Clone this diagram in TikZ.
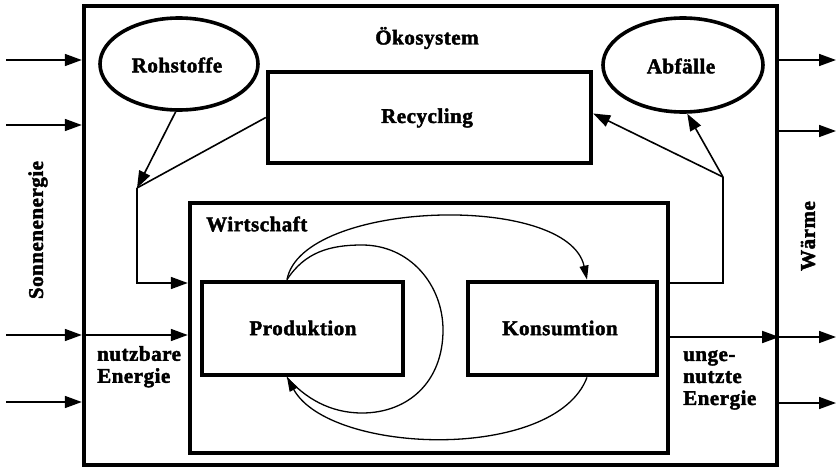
\documentclass[tikz,border=0pt]{standalone}
\usepackage{fontspec}
\setmainfont{Liberation Serif}[LetterSpace=2.5, BoldFeatures={FakeBold=2}]
\usetikzlibrary{arrows.meta,shapes.geometric}

\begin{document}
\begin{tikzpicture}[x=1pt,y=-1pt,
  lbl/.style={font=\fontsize{21}{22}\selectfont\bfseries},
  frame/.style={draw, line width=4.4pt, inner sep=0pt},
  blob/.style={draw, ellipse, line width=3.6pt, inner sep=0pt},
  arr/.style={line width=1.6pt, -{Triangle[length=17pt,width=12pt]}},
  flow/.style={line width=1.6pt},
  cyc/.style={line width=1.3pt},
  carr/.style={line width=1.3pt, -{Triangle[length=14pt,width=9pt]}}
]
\useasboundingbox (0,0) rectangle (836,471);

% boxes
\node[frame, minimum width=693pt, minimum height=459pt] (eco) at (430.5,235.5) {};
\node[frame, minimum width=323pt, minimum height=91pt] (recyc) at (429.5,117.5) {};
\node[frame, minimum width=478pt, minimum height=250pt] (wirt) at (429,328) {};
\node[frame, line width=4.8pt, minimum width=201pt, minimum height=93pt] (prod) at (302.5,328.5) {};
\node[frame, line width=4.8pt, minimum width=189pt, minimum height=93pt] (kons) at (562.5,328.5) {};
\node[blob, minimum width=158pt, minimum height=92pt] (roh) at (179,64) {};
\node[blob, minimum width=160pt, minimum height=94pt] (abf) at (683,65) {};

% texts
\node[lbl] (tEco) at (427,38) {Ökosystem};
\node[lbl] (tRecyc) at (427,118) {Recycling};
\node[lbl] (tRoh) at (177,65) {Rohstoffe};
\node[lbl] (tAbf) at (681,66) {Abfälle};
\node[lbl, anchor=west, inner sep=0pt] (tWirt) at (206,224) {Wirtschaft};
\node[lbl] (tProd) at (303,328) {Produktion};
\node[lbl] (tKons) at (560,328) {Konsumtion};
\node[lbl, anchor=north west, align=left, inner sep=0pt] (tNutz) at (97,346) {nutzbare\\Energie};
\node[lbl, anchor=north west, align=left, inner sep=0pt] (tUnge) at (683,350) {unge-\\nutzte\\Energie};
\node[lbl, rotate=90] (tSonne) at (38,230) {Sonnenenergie};
\node[lbl, rotate=90] (tWaerme) at (808,236) {Wärme};

% incoming solar energy
\coordinate (l1) at (6,60);
\coordinate (l2) at (6,125);
\coordinate (l3) at (6,335);
\coordinate (l4) at (6,402);
\draw[arr] (l1) -- (l1 -| eco.west);
\draw[arr] (l2) -- (l2 -| eco.west);
\draw[arr] (l3) -- (l3 -| eco.west);
\draw[arr] (l3 -| eco.west) -- (l3 -| wirt.west);
\draw[arr] (l4) -- (l4 -| eco.west);

% outgoing heat
\coordinate (r1) at (836,60);
\coordinate (r2) at (836,131);
\coordinate (r3) at (836,337);
\coordinate (r4) at (836,403);
\draw[arr] (r1 -| eco.east) -- (r1);
\draw[arr] (r2 -| eco.east) -- (r2);
\draw[arr] (r3 -| wirt.east) -- (r3 -| eco.east);
\draw[arr] (r3 -| eco.east) -- (r3);
\draw[arr] (r4 -| eco.east) -- (r4);

% raw materials and recycled goods into the economy
\coordinate (jl) at (137,188);
\coordinate (jl2) at (137,283);
\draw[arr] (roh.-94) -- (jl);
\draw[flow] (recyc.west) -- (jl);
\draw[arr] (jl) -- (jl2) -- (jl2 -| wirt.west);

% waste out of the economy
\coordinate (jr) at (723,177);
\coordinate (jr2) at (723,283);
\draw[flow] (jr2 -| wirt.east) -- (jr2) -- (jr);
\draw[arr] (jr) -- ([yshift=4pt]recyc.east);
\draw[arr] (jr) -- (abf.-85);

% cycles between production and consumption
\coordinate (p1) at ([xshift=-15.5pt]prod.north);
\coordinate (p2) at ([xshift=-15.5pt]prod.south);
\coordinate (k1) at ([xshift=24.5pt]kons.north);
\coordinate (k2) at ([xshift=24.5pt]kons.south);
\draw[carr] (p1) .. controls (302,200) and (568,192) .. (k1);
\draw[carr] (k2) .. controls (555,462) and (330,455) .. (p2);
\draw[cyc] (p1) .. controls (305,252) and (330,245) .. (362,245)
                .. controls (410,245) and (443,285) .. (443,330)
                .. controls (443,382) and (408,413) .. (362,413)
                .. controls (330,413) and (305,398) .. (p2);
\end{tikzpicture}
\end{document}
